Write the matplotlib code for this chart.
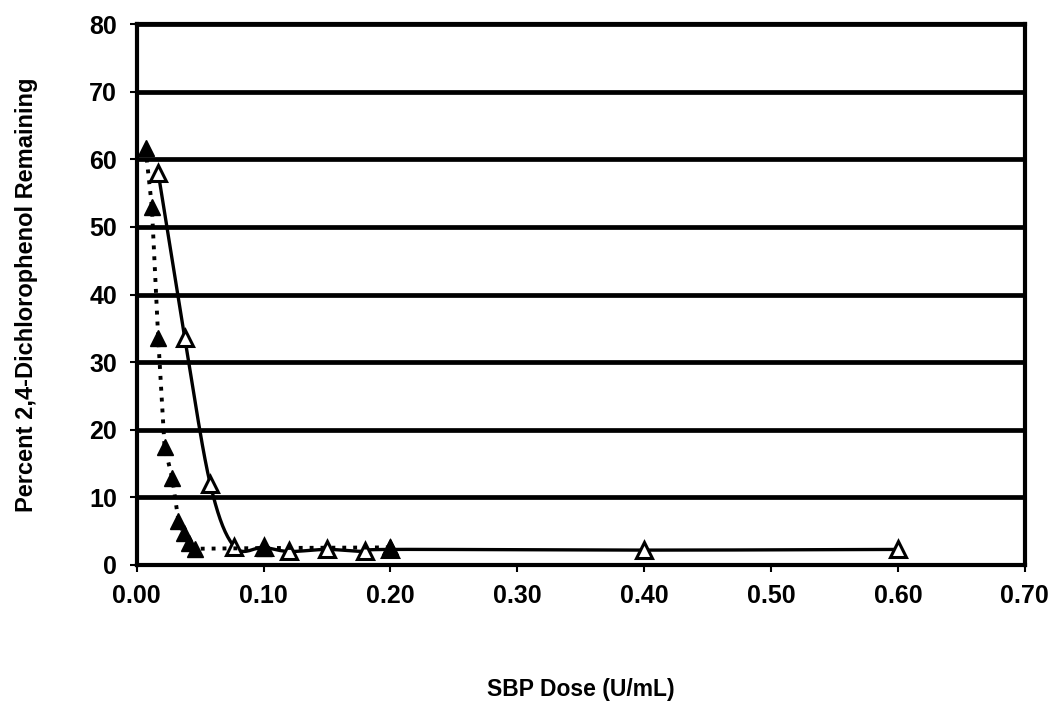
import numpy as np
import matplotlib
matplotlib.use("Agg")
import matplotlib.pyplot as plt

plt.rcParams['font.family'] = ['Liberation Sans', 'DejaVu Sans']
plt.rcParams['font.weight'] = 'bold'

# filled triangles, dotted line
dose_filled = [0.007, 0.012, 0.017, 0.022, 0.028, 0.033, 0.037, 0.041, 0.046, 0.10, 0.20]
pct_filled = [61.7, 53.0, 33.6, 17.5, 12.9, 6.5, 4.7, 3.3, 2.4, 2.5, 2.6]

# open triangles, smooth solid line
dose_open = [0.017, 0.038, 0.058, 0.077, 0.10, 0.12, 0.15, 0.18, 0.20, 0.40, 0.60]
pct_open = [58.0, 33.5, 12.0, 2.7, 2.6, 2.0, 2.3, 2.0, 2.3, 2.2, 2.3]

xticks = [0.0, 0.1, 0.2, 0.3, 0.4, 0.5, 0.6, 0.7]
yticks = [0, 10, 20, 30, 40, 50, 60, 70, 80]


def smooth(xs, ys, n=20):
    # catmull-rom style smoothing like the spreadsheet "smoothed line"
    xs = np.asarray(xs, float)
    ys = np.asarray(ys, float)
    px = np.concatenate([[xs[0]], xs, [xs[-1]]])
    py = np.concatenate([[ys[0]], ys, [ys[-1]]])
    ox, oy = [], []
    t = np.linspace(0, 1, n)
    for i in range(1, len(px) - 2):
        p0, p1, p2, p3 = [np.array([px[j], py[j]]) for j in range(i - 1, i + 3)]
        c1 = p1 + (p2 - p0) / 6
        c2 = p2 - (p3 - p1) / 6
        for tt in t:
            pt = ((1 - tt) ** 3 * p1 + 3 * (1 - tt) ** 2 * tt * c1
                  + 3 * (1 - tt) * tt ** 2 * c2 + tt ** 3 * p2)
            ox.append(pt[0])
            oy.append(pt[1])
    return ox, oy


fig = plt.figure(figsize=(10.51, 7.08), dpi=100)
ax = fig.add_axes([0.130, 0.202, 0.845, 0.764])

for y in yticks[1:]:
    ax.axhline(y, color='black', lw=3.4, zorder=1)

sx, sy = smooth(dose_open, pct_open)
ax.plot(sx, sy, color='black', lw=2.4, zorder=2)
ax.plot(dose_open, pct_open, ls='none', marker='^', ms=11, mfc='white',
        mec='black', mew=2.2, zorder=3)

ax.plot(dose_filled, pct_filled, color='black', lw=2.8, ls=(0, (1, 1.8)),
        marker='^', ms=12, mfc='black', mec='black', zorder=4)

ax.set_xlim(0, 0.7)
ax.set_ylim(0, 80)
ax.set_xticks(xticks)
ax.set_xticklabels(['%.2f' % v for v in xticks])
ax.set_yticks(yticks)
ax.tick_params(axis='both', labelsize=18, width=1.5, length=5, direction='out',
               pad=9)
for s in ax.spines.values():
    s.set_linewidth(3)

ax.set_xlabel('SBP Dose (U/mL)', fontsize=16.5, fontweight='bold', labelpad=50)
ax.set_ylabel('Percent 2,4-Dichlorophenol Remaining', fontsize=17,
              fontweight='bold', labelpad=37)

fig.savefig('out.png', dpi=100)
